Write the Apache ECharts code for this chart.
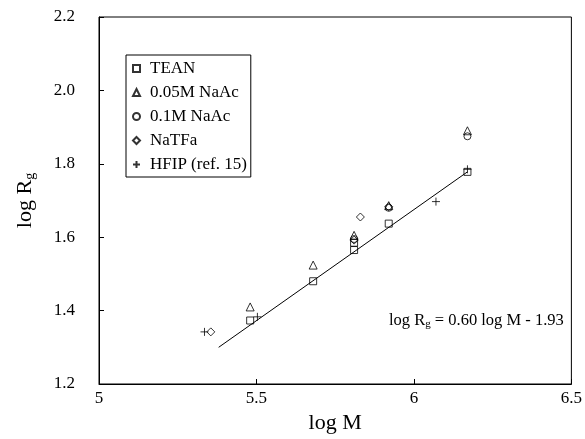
<!DOCTYPE html>
<html>
<head>
<meta charset="utf-8">
<script src="https://cdn.jsdelivr.net/npm/echarts@6/dist/echarts.min.js"></script>
<style>html,body{margin:0;padding:0;background:#fff}#c{width:585px;height:439px}</style>
</head>
<body>
<div id="c"></div>
<script>
// ---- data ----
var seriesNames = ['TEAN', '0.05M NaAc', '0.1M NaAc', 'NaTFa', 'HFIP (ref. 15)'];
var tean = [[5.48, 1.373], [5.68, 1.480], [5.81, 1.565], [5.81, 1.585], [5.92, 1.637], [6.17, 1.778]];
var naAc005 = [[5.48, 1.410], [5.68, 1.524], [5.81, 1.605], [5.92, 1.686], [6.17, 1.890]];
var naAc01 = [[5.81, 1.595], [5.92, 1.680], [6.17, 1.875]];
var naTFa = [[5.355, 1.342], [5.83, 1.655], [5.81, 1.592], [5.92, 1.683]];
var hfip = [[5.335, 1.342], [5.503, 1.383], [6.07, 1.697], [6.17, 1.785]];
var fitLine = [[5.38, 1.300], [6.17, 1.778]];
var xTicks = [5, 5.5, 6, 6.5];
var yTicks = [1.2, 1.4, 1.6, 1.8, 2.0, 2.2];

var FONT = "'Liberation Serif', 'Times New Roman', serif";
var chart = echarts.init(document.getElementById('c'), null, {renderer: 'canvas'});
var plusPath = 'path://M0,5L10,5M5,0L5,10';

function sc(name, data, symbol, size) {
  return {
    name: name, type: 'scatter', data: data, symbol: symbol, symbolSize: size,
    itemStyle: {color: 'rgba(255,255,255,0)', borderColor: '#000', borderWidth: 1},
    emphasis: {disabled: true}, z: 3
  };
}

chart.setOption({
  animation: false,
  backgroundColor: '#fff',
  grid: {left: 99, right: 12, top: 17, bottom: 55, show: true, borderColor: '#000', borderWidth: 1},
  xAxis: {
    type: 'value', min: xTicks[0], max: xTicks[xTicks.length - 1], interval: 0.5,
    name: 'log M', nameLocation: 'middle', nameGap: 28,
    nameTextStyle: {fontFamily: FONT, fontSize: 22, color: '#000'},
    axisLine: {lineStyle: {color: '#000', width: 1}},
    axisTick: {inside: true, length: 5, lineStyle: {color: '#000'}},
    axisLabel: {fontFamily: FONT, fontSize: 17, color: '#000', margin: 6,
      formatter: function (v) { return String(+v.toFixed(1)); }},
    splitLine: {show: false}
  },
  yAxis: {
    type: 'value', min: yTicks[0], max: yTicks[yTicks.length - 1], interval: 0.2,
    name: '{a|log R}{b|g}', nameLocation: 'middle', nameGap: 62, nameRotate: 90,
    nameTextStyle: {fontFamily: FONT, fontSize: 22, color: '#000',
      rich: {a: {fontFamily: FONT, fontSize: 22, color: '#000'},
             b: {fontFamily: FONT, fontSize: 14, color: '#000', padding: [10, 0, 0, 0]}}},
    axisLine: {lineStyle: {color: '#000', width: 1}},
    axisTick: {inside: true, length: 5, lineStyle: {color: '#000'}},
    axisLabel: {fontFamily: FONT, fontSize: 17, color: '#000', margin: 24,
      formatter: function (v) { return v.toFixed(1); }},
    splitLine: {show: false}
  },
  legend: {
    data: seriesNames, orient: 'vertical', left: 126, top: 55,
    backgroundColor: '#fff', borderColor: '#000', borderWidth: 1,
    padding: [5, 4, 4, 6], itemGap: 7, itemWidth: 7, itemHeight: 7,
    textStyle: {fontFamily: FONT, fontSize: 17, color: '#000', lineHeight: 16, padding: [0, 0, 0, 5]},
    selectedMode: false
  },
  graphic: [{
    type: 'text', left: 389, top: 312, z: 10,
    style: {
      text: '{a|log R}{b|g}{a| = 0.60 log M - 1.93}',
      rich: {a: {fontFamily: FONT, fontSize: 16.5, fill: '#000'},
             b: {fontFamily: FONT, fontSize: 11, fill: '#000', padding: [7, 0, 0, 0]}}
    }
  }],
  series: [
    {type: 'line', data: fitLine, showSymbol: false, symbol: 'none',
     lineStyle: {color: '#000', width: 1}, z: 2, silent: true},
    sc(seriesNames[0], tean, 'rect', 7),
    sc(seriesNames[1], naAc005, 'triangle', 8),
    sc(seriesNames[2], naAc01, 'circle', 7),
    sc(seriesNames[3], naTFa, 'diamond', 8),
    sc(seriesNames[4], hfip, plusPath, 8)
  ]
});
</script>
</body>
</html>
